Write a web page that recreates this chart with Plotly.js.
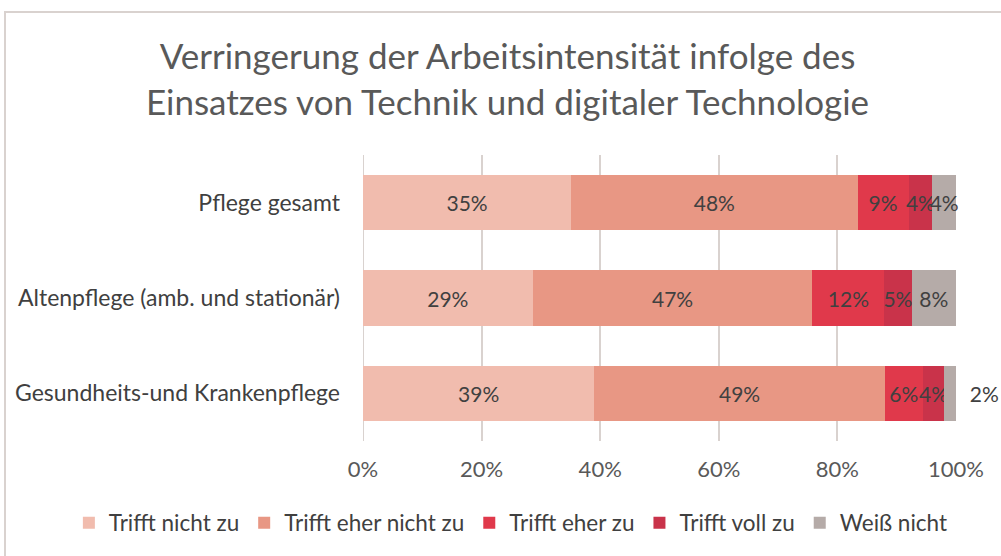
<!DOCTYPE html>
<html>
<head>
<meta charset="utf-8">
<script src="https://cdn.plot.ly/plotly-3.0.1.min.js"></script>
<style>
  html, body { margin: 0; padding: 0; background: #fff; }
  #chart { width: 1001px; height: 556px; }
  #frame { position: absolute; left: 4px; top: 11px; width: 1001px; height: 560px;
           border-top: 2px solid #D9D2CF; border-left: 2px solid #D9D2CF; pointer-events: none; }
</style>
</head>
<body>
<div id="chart"></div>
<div id="frame"></div>
<script>
const categories = ["Pflege gesamt", "Altenpflege (amb. und stationär)", "Gesundheits-und Krankenpflege"];
const seriesNames = ["Trifft nicht zu", "Trifft eher nicht zu", "Trifft eher zu", "Trifft voll zu", "Weiß nicht"];
const triffNichtZu = [35.1, 28.6, 39.0];
const trifftEherNichtZu = [48.3, 47.2, 49.0];
const trifftEherZu = [8.6, 12.1, 6.4];
const trifftVollZu = [4.0, 4.6, 3.6];
const weissNicht = [4.0, 7.5, 2.0];
const xTickVals = [0, 20, 40, 60, 80, 100];
const xTickText = ["0%", "20%", "40%", "60%", "80%", "100%"];

const seriesValues = [triffNichtZu, trifftEherNichtZu, trifftEherZu, trifftVollZu, weissNicht];
const colors = ["#F1BCAE", "#E89784", "#E0394B", "#C9334A", "#B5ABA8"];
const FONT = "Lato, 'Open Sans', sans-serif";

const traces = seriesValues.map((vals, i) => {
  const isLast = i === seriesValues.length - 1;
  const pos = vals.map(v => (isLast && v < 3) ? "outside" : "inside");
  const txt = vals.map(v => ((isLast && v < 3) ? "\u00a0\u00a0" : "") + Math.round(v) + "%");
  return {
    type: "bar",
    orientation: "h",
    name: seriesNames[i],
    y: categories,
    x: vals,
    text: txt,
    textposition: pos,
    insidetextanchor: "middle",
    textangle: 0,
    constraintext: "none",
    cliponaxis: false,
    textfont: { family: FONT, size: 21, color: "#404040" },
    insidetextfont: { family: FONT, size: 21, color: "#404040" },
    outsidetextfont: { family: FONT, size: 21, color: "#404040" },
    marker: { color: colors[i], line: { width: 0 } },
    hoverinfo: "skip"
  };
});

const layout = {
  width: 1001,
  height: 556,
  barmode: "stack",
  bargap: 0.42,
  paper_bgcolor: "#ffffff",
  plot_bgcolor: "#ffffff",
  margin: { l: 363, r: 45, t: 155, b: 115, pad: 0 },
  font: { family: FONT, color: "#595959", size: 21 },
  title: {
    text: "Verringerung der Arbeitsintensität infolge des<br>Einsatzes von Technik und digitaler Technologie",
    font: { family: FONT, size: 35, color: "#595959" },
    x: 0.507, xanchor: "center", xref: "container",
    y: 1 - 69 / 556, yanchor: "middle", yref: "container"
  },
  xaxis: {
    range: [0, 100],
    tickvals: xTickVals,
    ticktext: xTickText,
    showgrid: true,
    gridcolor: "#D9D2CF",
    gridwidth: 2,
    zeroline: false,
    showline: false,
    ticks: "",
    ticklabelstandoff: 13,
    tickfont: { family: FONT, size: 22, color: "#595959" },
    fixedrange: true
  },
  yaxis: {
    autorange: "reversed",
    showgrid: false,
    zeroline: false,
    showline: false,
    ticks: "",
    ticklabelstandoff: 22,
    tickfont: { family: FONT, size: 23, color: "#404040" },
    fixedrange: true
  },
  shapes: [{
    type: "line", xref: "x", yref: "paper", x0: 0, x1: 0, y0: 0, y1: 1,
    line: { color: "#D9D2CF", width: 2 }, layer: "below"
  }],
  legend: {
    orientation: "h",
    xref: "paper", yref: "paper",
    x: -0.496, xanchor: "left",
    y: -0.287, yanchor: "middle",
    font: { family: FONT, size: 22.5, color: "#404040" },
    itemwidth: 30,
    tracegroupgap: 0,
    traceorder: "normal"
  },
  showlegend: true
};

Plotly.newPlot("chart", traces, layout, { displayModeBar: false, staticPlot: true });
</script>
</body>
</html>
